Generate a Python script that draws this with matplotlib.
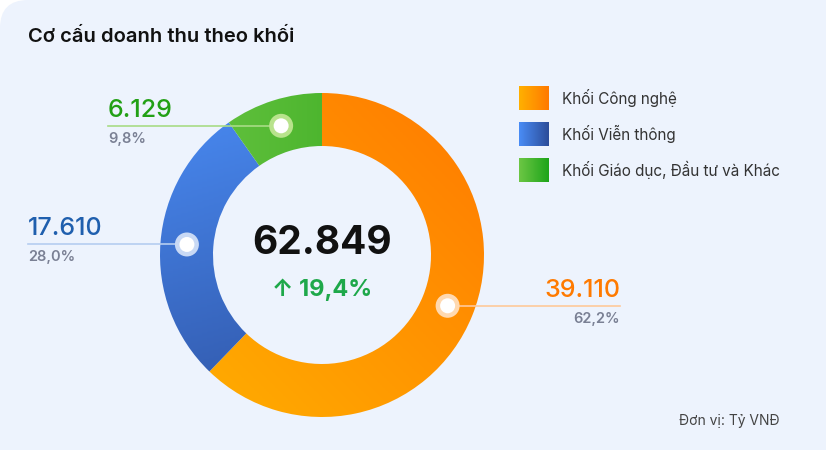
import numpy as np
import matplotlib
matplotlib.use("Agg")
import matplotlib.pyplot as plt
from matplotlib.patches import Wedge, FancyBboxPatch, Circle
from matplotlib.colors import LinearSegmentedColormap

plt.rcParams['font.family'] = ['Inter', 'DejaVu Sans']

categories = ["Khối Công nghệ", "Khối Viễn thông", "Khối Giáo dục, Đầu tư và Khác"]
values = [39110, 17610, 6129]
value_labels = ["39.110", "17.610", "6.129"]
pct_labels = ["62,2%", "28,0%", "9,8%"]
total_label = "62.849"
growth_label = "↑ 19,4%"

W, H = 826, 450
fig = plt.figure(figsize=(W/100, H/100), dpi=100)
fig.patch.set_facecolor("white")
ax = fig.add_axes([0, 0, 1, 1])
ax.set_xlim(0, W); ax.set_ylim(0, H); ax.axis("off")

ax.add_patch(FancyBboxPatch((0, -40), W + 40, H + 40, boxstyle="round,pad=0,rounding_size=28",
                            fc="#edf3fd", ec="none"))

def Y(y): return H - y

ax.text(28, Y(37), "Cơ cấu doanh thu theo khối", fontsize=14.5, fontweight="semibold",
        color="#111111", va="center", ha="left")

cx, cy = 322, Y(255)
R, w = 162, 53
grads = [("#ffb000", "#ff7a00", (1, 1)), ("#4a8cf5", "#2c4d9a", (0.3, -1)), ("#6cc644", "#2ea51a", (1, 0))]
total = sum(values)
start = 90
mids = []
for v, (c1, c2, d) in zip(values, grads):
    ang = 360 * v / total
    t1, t2 = start - ang, start
    wdg = Wedge((cx, cy), R, t1, t2, width=w, fc="none", ec="none")
    ax.add_patch(wdg)
    xs = np.linspace(-1, 1, 200)
    X, YY = np.meshgrid(xs, xs)
    g = (X * d[0] + YY * d[1]); g = (g - g.min()) / (g.max() - g.min())
    cmap = LinearSegmentedColormap.from_list("g", [c1, c2])
    im = ax.imshow(g, cmap=cmap, extent=(cx - R, cx + R, cy - R, cy + R), origin="lower", zorder=1)
    im.set_clip_path(wdg)
    mids.append(np.deg2rad((t1 + t2) / 2))
    start = t1
ax.set_xlim(0, W); ax.set_ylim(0, H)

label_cols = ["#ff7a00", "#1f5fae", "#22a015"]
line_cols = ["#ffc99a", "#b5cdf0", "#a8dc86"]
ring_cols = ["#ffd9b0", "#c8d9f5", "#b8e38c"]
rm = R - w / 2
places = [(620, "right"), (28, "left"), (108, "left")]
for i, th in enumerate(mids):
    mx, my = cx + rm * np.cos(th), cy + rm * np.sin(th)
    lx, ha = places[i]
    ax.plot([mx, lx], [my, my], color=line_cols[i], lw=1.2, zorder=2)
    ax.add_patch(Circle((mx, my), 12, fc=ring_cols[i], ec="none", zorder=3))
    ax.add_patch(Circle((mx, my), 7.5, fc="white", ec="none", zorder=4))
    ax.text(lx, my + 4, value_labels[i], fontsize=18, fontweight="medium", color=label_cols[i], ha=ha, va="bottom")
    ax.text(lx, my - 6, pct_labels[i], fontsize=10.5, color="#7a8094", ha=ha, va="top",
            fontweight="semibold")

ax.text(cx, Y(244), total_label, fontsize=28, fontweight="bold", color="#111111", ha="center", va="center")
ax.text(cx, Y(290), growth_label, fontsize=17, fontweight="bold", color="#1ea84a", ha="center", va="center")

leg_cols = [("#ffb000", "#ff7a00"), ("#4a8cf5", "#2c4d9a"), ("#6cc644", "#1ea51a")]
for i, (cat, (c1, c2)) in enumerate(zip(categories, leg_cols)):
    yy = Y(98 + i * 36)
    g = np.linspace(0, 1, 50)[None, :]
    cmap = LinearSegmentedColormap.from_list("l", [c1, c2])
    ax.imshow(g, cmap=cmap, extent=(519, 549, yy - 12, yy + 12), zorder=2)
    ax.text(562, yy, cat, fontsize=11, color="#333333", va="center", ha="left")
ax.set_xlim(0, W); ax.set_ylim(0, H)

ax.text(780, Y(421), "Đơn vị: Tỷ VNĐ", fontsize=10, color="#444444", ha="right", va="center")

fig.savefig("out.png", dpi=100, facecolor="white")
